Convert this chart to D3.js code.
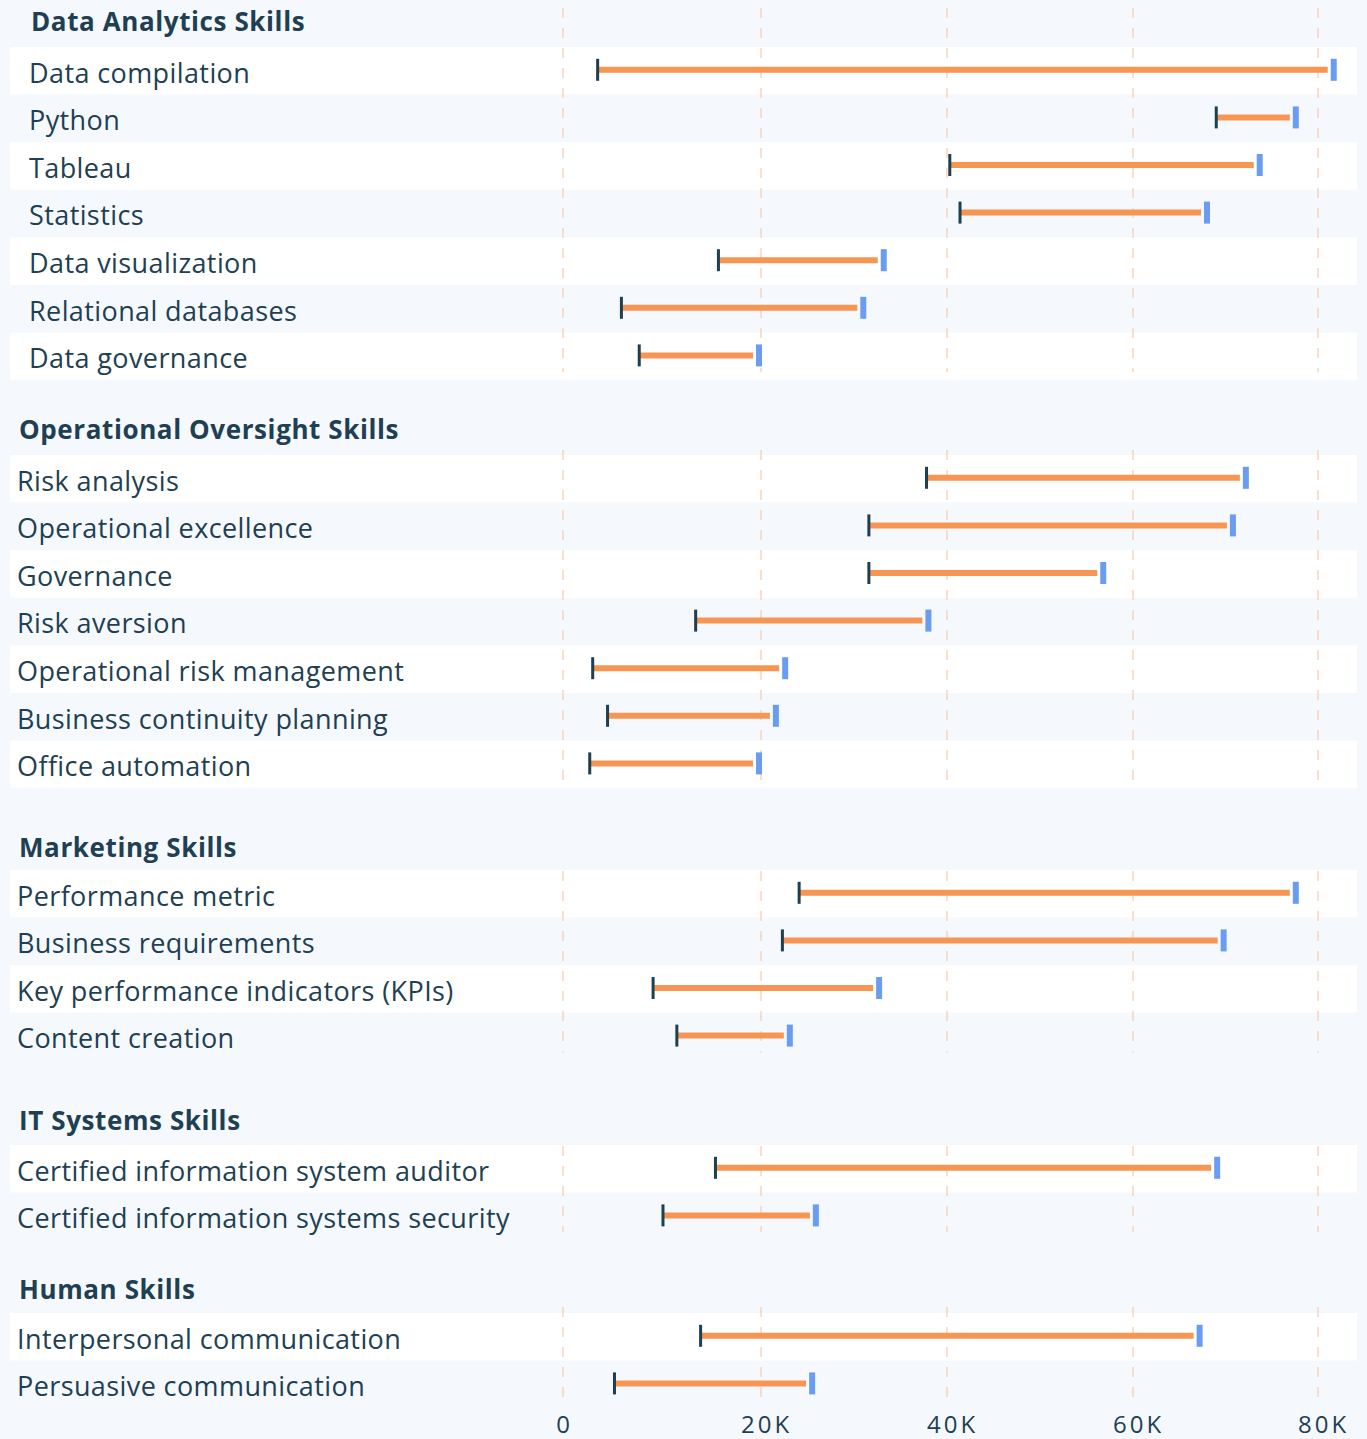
<!DOCTYPE html>
<html>
<head>
<meta charset="utf-8">
<script src="https://cdn.jsdelivr.net/npm/d3@7"></script>
<style>
  html, body { margin: 0; padding: 0; background: #f5f9fe; }
  svg { display: block; }
</style>
</head>
<body>
<svg id="chart" width="1367" height="1439"></svg>
<script>
// ---------- DATA ----------
const sectionTitles = [
  "Data Analytics Skills",
  "Operational Oversight Skills",
  "Marketing Skills",
  "IT Systems Skills",
  "Human Skills"
];
const skillNames = [
  ["Data compilation", "Python", "Tableau", "Statistics", "Data visualization", "Relational databases", "Data governance"],
  ["Risk analysis", "Operational excellence", "Governance", "Risk aversion", "Operational risk management", "Business continuity planning", "Office automation"],
  ["Performance metric", "Business requirements", "Key performance indicators (KPIs)", "Content creation"],
  ["Certified information system auditor", "Certified information systems security"],
  ["Interpersonal communication", "Persuasive communication"]
];
const lowValues = [
  [3500, 69000, 40300, 41400, 15700, 5900, 7700],
  [37800, 31600, 31600, 13400, 3000, 4500, 2700],
  [24100, 22300, 9100, 11500],
  [15400, 10100],
  [13900, 5200]
];
const highValues = [
  [81700, 77600, 73700, 68000, 33200, 31000, 19800],
  [72200, 70800, 56800, 38000, 22600, 21600, 19800],
  [77600, 69800, 32700, 23100],
  [69100, 25900],
  [67200, 25500]
];
const tickValues = [0, 20000, 40000, 60000, 80000];
const tickLabels = ["0", "20K", "40K", "60K", "80K"];

// ---------- LAYOUT ----------
const W = 1367, H = 1439;
const rowH = 47.6;
const sectionRowTop = [47, 455, 870, 1145, 1313];
const sectionHeaderY = [22, 430, 848, 1121, 1290];
const sectionGridTop = [8, 450, 871, 1146, 1307];
const sectionIndent = [29, 17, 17, 17, 17];
const bandLeft = 10, bandRight = 1357;
const FONT = "'Open Sans', Lato, sans-serif";

const C = {
  text: "#1e4052",
  orange: "#f79552",
  blue: "#6a9df2",
  dark: "#1e3f50",
  grid: "#f8d2bb",
  white: "#ffffff",
  bg: "#f5f9fe"
};

const svg = d3.select("#chart");
svg.append("rect").attr("width", W).attr("height", H).attr("fill", C.bg);

const x = d3.scaleLinear()
  .domain(tickValues)
  .range([563, 761, 947, 1133, 1318]);

sectionTitles.forEach((title, s) => {
  const g = svg.append("g");
  const names = skillNames[s];
  const y = d3.scaleBand()
    .domain(names)
    .range([sectionRowTop[s], sectionRowTop[s] + rowH * names.length])
    .paddingInner(0).paddingOuter(0);

  // row bands
  g.selectAll("rect.band").data(names).join("rect")
    .attr("class", "band")
    .attr("x", bandLeft)
    .attr("width", bandRight - bandLeft)
    .attr("y", d => y(d))
    .attr("height", y.bandwidth())
    .attr("fill", (d, i) => i % 2 === 0 ? C.white : C.bg);

  // gridlines
  const gridBottom = sectionRowTop[s] + rowH * names.length - 8;
  g.selectAll("line.grid").data(tickValues).join("line")
    .attr("class", "grid")
    .attr("x1", d => x(d)).attr("x2", d => x(d))
    .attr("y1", sectionGridTop[s]).attr("y2", gridBottom)
    .attr("stroke", C.grid)
    .attr("stroke-width", 1.4)
    .attr("stroke-dasharray", "10,10");

  // header
  g.append("text")
    .attr("x", sectionIndent[s] + 2)
    .attr("y", sectionHeaderY[s])
    .attr("dy", "0.36em")
    .attr("font-family", FONT)
    .attr("font-weight", 700)
    .attr("font-size", 26)
    .attr("letter-spacing", 0.6)
    .attr("fill", C.text)
    .text(title);

  // labels
  g.selectAll("text.label").data(names).join("text")
    .attr("class", "label")
    .attr("x", sectionIndent[s])
    .attr("y", d => y(d) + y.bandwidth() / 2 + 2)
    .attr("dy", "0.36em")
    .attr("font-family", FONT)
    .attr("font-size", 27)
    .attr("letter-spacing", 0.4)
    .attr("fill", C.text)
    .text(d => d);

  const rows = names.map((n, i) => ({ name: n, lo: lowValues[s][i], hi: highValues[s][i] }));
  const cy = d => y(d.name) + y.bandwidth() / 2 - 1;

  // orange bars
  g.selectAll("line.bar").data(rows).join("line")
    .attr("class", "bar")
    .attr("x1", d => x(d.lo)).attr("x2", d => x(d.hi) - 6)
    .attr("y1", cy).attr("y2", cy)
    .attr("stroke", C.orange)
    .attr("stroke-width", 6);

  // left cap
  g.selectAll("rect.lo").data(rows).join("rect")
    .attr("class", "lo")
    .attr("x", d => x(d.lo) - 1.5)
    .attr("y", d => cy(d) - 11)
    .attr("width", 3)
    .attr("height", 22)
    .attr("fill", C.dark);

  // right cap
  g.selectAll("rect.hi").data(rows).join("rect")
    .attr("class", "hi")
    .attr("x", d => x(d.hi) - 3)
    .attr("y", d => cy(d) - 11)
    .attr("width", 6)
    .attr("height", 22)
    .attr("fill", C.blue);
});

// axis labels
const axisG = svg.append("g").attr("transform", "translate(0,1433)");
const axis = d3.axisBottom(x).tickValues(tickValues).tickFormat((d, i) => tickLabels[i]).tickSize(0);
axisG.call(axis);
axisG.select(".domain").remove();
axisG.selectAll("text")
  .attr("y", 0)
  .attr("dy", 0)
  .attr("dx", (d, i) => i === 0 ? 1 : 5)
  .attr("font-family", FONT)
  .attr("font-size", 24)
  .attr("letter-spacing", 3)
  .attr("fill", C.text);
</script>
</body>
</html>
